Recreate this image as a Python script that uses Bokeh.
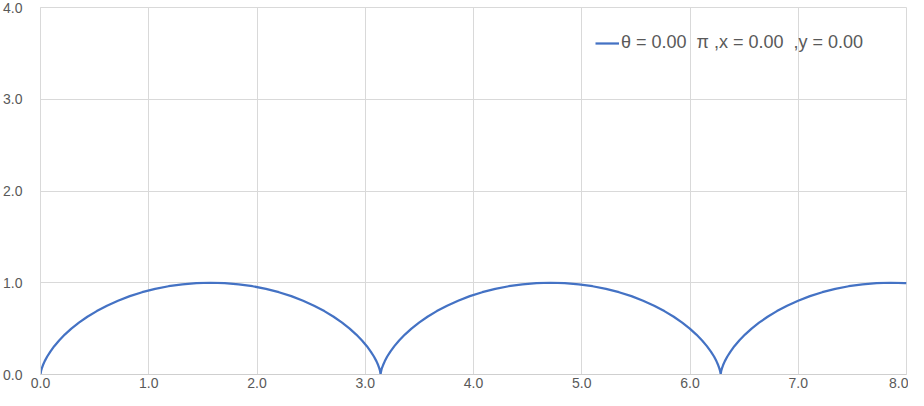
from bokeh.plotting import figure
from bokeh.models import Range1d, FixedTicker, NumeralTickFormatter
from bokeh.embed import file_html
from bokeh.resources import INLINE

# Curve points (three arches, the last one cut at x = 8)
arch1_x = [0.000, 0.000, 0.002, 0.005, 0.012, 0.023, 0.039, 0.062, 0.091, 0.127,
           0.172, 0.224, 0.285, 0.355, 0.433, 0.520, 0.614, 0.716, 0.825, 0.939,
           1.059, 1.183, 1.311, 1.440, 1.571, 1.702, 1.831, 1.959, 2.083, 2.202,
           2.317, 2.426, 2.527, 2.622, 2.708, 2.786, 2.856, 2.917, 2.970, 3.015,
           3.051, 3.080, 3.103, 3.119, 3.130, 3.137, 3.140, 3.141, 3.142]
arch1_y = [0.000, 0.004, 0.017, 0.038, 0.067, 0.103, 0.146, 0.196, 0.250, 0.309,
           0.371, 0.435, 0.500, 0.565, 0.629, 0.691, 0.750, 0.804, 0.854, 0.897,
           0.933, 0.962, 0.983, 0.996, 1.000, 0.996, 0.983, 0.962, 0.933, 0.897,
           0.854, 0.804, 0.750, 0.691, 0.629, 0.565, 0.500, 0.435, 0.371, 0.309,
           0.250, 0.196, 0.146, 0.103, 0.067, 0.038, 0.017, 0.004, 0.000]
arch2_x = [3.142, 3.143, 3.147, 3.153, 3.165, 3.181, 3.203, 3.232, 3.269,
           3.313, 3.366, 3.427, 3.497, 3.575, 3.661, 3.756, 3.858, 3.966, 4.081,
           4.201, 4.325, 4.452, 4.582, 4.712, 4.843, 4.973, 5.100, 5.224, 5.344,
           5.459, 5.567, 5.669, 5.763, 5.850, 5.928, 5.998, 6.059, 6.112, 6.156,
           6.193, 6.222, 6.244, 6.260, 6.271, 6.278, 6.282, 6.283, 6.283]
arch2_y = [0.004, 0.017, 0.038, 0.067, 0.103, 0.146, 0.196, 0.250, 0.309,
           0.371, 0.435, 0.500, 0.565, 0.629, 0.691, 0.750, 0.804, 0.854, 0.897,
           0.933, 0.962, 0.983, 0.996, 1.000, 0.996, 0.983, 0.962, 0.933, 0.897,
           0.854, 0.804, 0.750, 0.691, 0.629, 0.565, 0.500, 0.435, 0.371, 0.309,
           0.250, 0.196, 0.146, 0.103, 0.067, 0.038, 0.017, 0.004, 0.000]
arch3_x = [6.283, 6.285, 6.288, 6.295, 6.306, 6.322, 6.345, 6.374, 6.410,
           6.455, 6.508, 6.569, 6.638, 6.717, 6.803, 6.897, 6.999, 7.108, 7.222,
           7.342, 7.466, 7.594, 7.723, 7.854, 7.985, 8.000]
arch3_y = [0.004, 0.017, 0.038, 0.067, 0.103, 0.146, 0.196, 0.250, 0.309,
           0.371, 0.435, 0.500, 0.565, 0.629, 0.691, 0.750, 0.804, 0.854, 0.897,
           0.933, 0.962, 0.983, 0.996, 1.000, 0.996, 0.995]

x_ticks = [0, 1, 2, 3, 4, 5, 6, 7, 8]
y_ticks = [0, 1, 2, 3, 4]
legend_text = "θ = 0.00  π ,x = 0.00  ,y = 0.00"

FONT = "Liberation Sans"
TXT = "#595959"
GRID = "#d9d9d9"

xs = arch1_x + arch2_x + arch3_x
ys = arch1_y + arch2_y + arch3_y

p = figure(width=908, height=390, output_backend="svg", toolbar_location=None,
           x_range=Range1d(0, 8), y_range=Range1d(0, 4),
           min_border_left=40, min_border_right=2, min_border_top=7, min_border_bottom=16)
p.outline_line_color = GRID
p.background_fill_color = "white"
p.border_fill_color = "white"

p.line(xs, ys, line_color="#4472C4", line_width=2.25, legend_label=legend_text)

for ax, ticks in ((p.xaxis[0], x_ticks), (p.yaxis[0], y_ticks)):
    ax.ticker = FixedTicker(ticks=ticks)
    ax.formatter = NumeralTickFormatter(format="0.0")
    ax.major_label_text_font = FONT
    ax.major_label_text_font_size = "14px"
    ax.major_label_text_color = TXT
    ax.major_tick_line_color = None
    ax.minor_tick_line_color = None
    ax.major_tick_out = 0
    ax.major_tick_in = 0
p.xaxis.axis_line_color = "#cfcfcf"
p.yaxis.axis_line_color = GRID
p.xaxis.major_label_standoff = 3
p.yaxis.major_label_standoff = 18

p.xgrid.ticker = FixedTicker(ticks=x_ticks)
p.ygrid.ticker = FixedTicker(ticks=y_ticks)
p.grid.grid_line_color = GRID
p.grid.grid_line_width = 1

lg = p.legend[0]
lg.location = (555, 321)
lg.padding = 0
lg.margin = 0
lg.border_line_color = None
lg.background_fill_alpha = 0
lg.label_text_font = FONT
lg.label_text_font_size = "18px"
lg.label_text_color = TXT
lg.glyph_width = 24
lg.label_standoff = 2
lg.label_height = 20
lg.glyph_height = 20

open("out.html", "w").write(file_html(p, INLINE))
